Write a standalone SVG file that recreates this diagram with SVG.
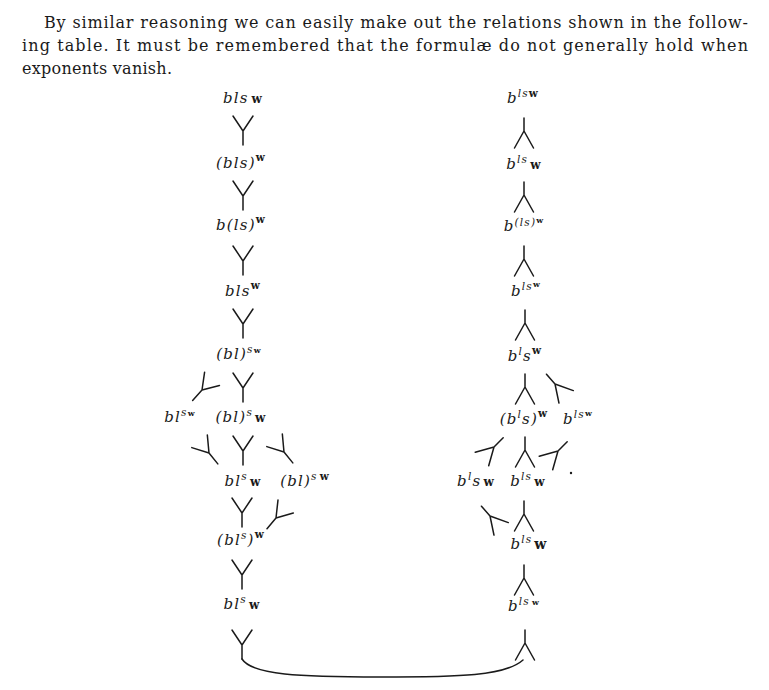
<svg xmlns="http://www.w3.org/2000/svg" xmlns:xlink="http://www.w3.org/1999/xlink" width="769" height="690" viewBox="0 0 769 690">
<style>
.bg{fill:#fff}
.t{font-family:"DejaVu Serif","Liberation Serif",serif;font-size:16px;fill:#1a1a1a}
.m{font-family:"DejaVu Serif","Liberation Serif",serif;font-size:15px;font-style:italic;fill:#1a1a1a;text-anchor:middle;letter-spacing:1.2px}
.w{font-style:normal;font-weight:bold;font-size:12px}
.s{font-size:10.5px}
.ss{font-size:8px}
.c{fill:none;stroke:#1a1a1a;stroke-width:1.5;stroke-linecap:round;stroke-linejoin:round}
</style>
<defs>
<path id="Y" d="M-10,-15 L0,0 L10,-15 M0,0 V14"/>
<path id="A" d="M0,-13 V0 M-9.5,17 L0,0 L9.5,17"/>
</defs>
<rect class="bg" x="0" y="0" width="769" height="690"/>
<g id="intro">
<text class="t" x="44" y="28" textLength="704" lengthAdjust="spacing">By similar reasoning we can easily make out the relations shown in the follow-</text>
<text class="t" x="22" y="51" textLength="726" lengthAdjust="spacing">ing table.  It must be remembered that the formulæ do not generally hold when</text>
<text class="t" x="22" y="74" textLength="150" lengthAdjust="spacing">exponents vanish.</text>
</g>
<g id="connectors" class="c">
<use xlink:href="#Y" transform="translate(243,131)"/>
<use xlink:href="#Y" transform="translate(243,196)"/>
<use xlink:href="#Y" transform="translate(243,261)"/>
<use xlink:href="#Y" transform="translate(243,324)"/>
<use xlink:href="#Y" transform="translate(243,388)"/>
<use xlink:href="#Y" transform="translate(202,390) rotate(42)"/>
<use xlink:href="#Y" transform="translate(243,451)"/>
<use xlink:href="#Y" transform="translate(209,453) rotate(-39)"/>
<use xlink:href="#Y" transform="translate(284,452) rotate(-39)"/>
<use xlink:href="#Y" transform="translate(242,513)"/>
<use xlink:href="#Y" transform="translate(276,518) rotate(40)"/>
<use xlink:href="#Y" transform="translate(242,575)"/>
<use xlink:href="#Y" transform="translate(242,645)"/>
<use xlink:href="#A" transform="translate(524,131)"/>
<use xlink:href="#A" transform="translate(524,195)"/>
<use xlink:href="#A" transform="translate(524,259)"/>
<use xlink:href="#A" transform="translate(525,323)"/>
<use xlink:href="#A" transform="translate(525,387)"/>
<use xlink:href="#A" transform="translate(555,384) rotate(-41)"/>
<use xlink:href="#A" transform="translate(525,450)"/>
<use xlink:href="#A" transform="translate(494,447) rotate(45)"/>
<use xlink:href="#A" transform="translate(558,451) rotate(45)"/>
<use xlink:href="#A" transform="translate(524,514)"/>
<use xlink:href="#A" transform="translate(490,516) rotate(-41)"/>
<use xlink:href="#A" transform="translate(524,578)"/>
<use xlink:href="#A" transform="translate(525,643)"/>
<path d="M242,659 C252,675 300,677 380,677 C460,677 505,676 523,660"/>
<circle cx="571" cy="473" r="1.2" fill="#1a1a1a" stroke="none"/>
</g>
<g id="l1"><text class="m" x="243" y="103">bls<tspan class="w" dx="3">w</tspan></text></g>
<g id="l2"><text class="m" x="241" y="168">(bls)<tspan class="w s" dy="-7">w</tspan></text></g>
<g id="l3"><text class="m" x="241" y="230">b(ls)<tspan class="w s" dy="-7">w</tspan></text></g>
<g id="l4"><text class="m" x="243" y="296">bls<tspan class="w s" dy="-7">w</tspan></text></g>
<g id="l5"><text class="m" x="239" y="359">(bl)<tspan class="s" dy="-6">s</tspan><tspan class="w ss">w</tspan></text></g>
<g id="l6a"><text class="m" x="180" y="422">bl<tspan class="s" dy="-6">s</tspan><tspan class="w ss">w</tspan></text></g>
<g id="l6b"><text class="m" x="241" y="422">(bl)<tspan class="s" dy="-6">s</tspan><tspan class="w" dy="6" dx="2">w</tspan></text></g>
<g id="l7a"><text class="m" x="243" y="486">bl<tspan class="s" dy="-6">s</tspan><tspan class="w" dy="6" dx="2">w</tspan></text></g>
<g id="l7b"><text class="m" x="305" y="486">(bl)<tspan class="s" dy="-6">s</tspan><tspan class="w s" dx="2">w</tspan></text></g>
<g id="l8"><text class="m" x="241" y="545">(bl<tspan class="s" dy="-6">s</tspan><tspan dy="6">)</tspan><tspan class="w s" dy="-7">w</tspan></text></g>
<g id="l9"><text class="m" x="242" y="609">bl<tspan class="s" dy="-6">s</tspan><tspan class="w" dy="6" dx="2">w</tspan></text></g>
<g id="r1"><text class="m" x="523" y="103">b<tspan class="s" dy="-6">ls</tspan><tspan class="w s">w</tspan></text></g>
<g id="r2"><text class="m" x="524" y="169">b<tspan class="s" dy="-6">ls</tspan><tspan class="w" dy="6" dx="2">w</tspan></text></g>
<g id="r3"><text class="m" x="524" y="231">b<tspan class="s" dy="-5">(ls)</tspan><tspan class="w ss" dy="-3">w</tspan></text></g>
<g id="r4"><text class="m" x="526" y="296">b<tspan class="s" dy="-6">ls</tspan><tspan class="w ss" dy="-3">w</tspan></text></g>
<g id="r5"><text class="m" x="525" y="361">b<tspan class="s" dy="-6">l</tspan><tspan dy="6">s</tspan><tspan class="w s" dy="-7">w</tspan></text></g>
<g id="r6a"><text class="m" x="524" y="424">(b<tspan class="s" dy="-6">l</tspan><tspan dy="6">s)</tspan><tspan class="w s" dy="-7">w</tspan></text></g>
<g id="r6b"><text class="m" x="578" y="424">b<tspan class="s" dy="-6">ls</tspan><tspan class="w ss" dy="-2">w</tspan></text></g>
<g id="r7a"><text class="m" x="476" y="486">b<tspan class="s" dy="-6">l</tspan><tspan dy="6">s</tspan><tspan class="w" dx="2">w</tspan></text></g>
<g id="r7b"><text class="m" x="528" y="486">b<tspan class="s" dy="-6">ls</tspan><tspan class="w" dy="6" dx="2">w</tspan></text></g>
<g id="r8"><text class="m" x="529" y="549">b<tspan class="s" dy="-6">ls</tspan><tspan class="w" dy="6" dx="2" style="font-size:14px">w</tspan></text></g>
<g id="r9"><text class="m" x="524" y="611">b<tspan class="s" dy="-6">ls</tspan><tspan class="w ss" dx="2">w</tspan></text></g>
</svg>
